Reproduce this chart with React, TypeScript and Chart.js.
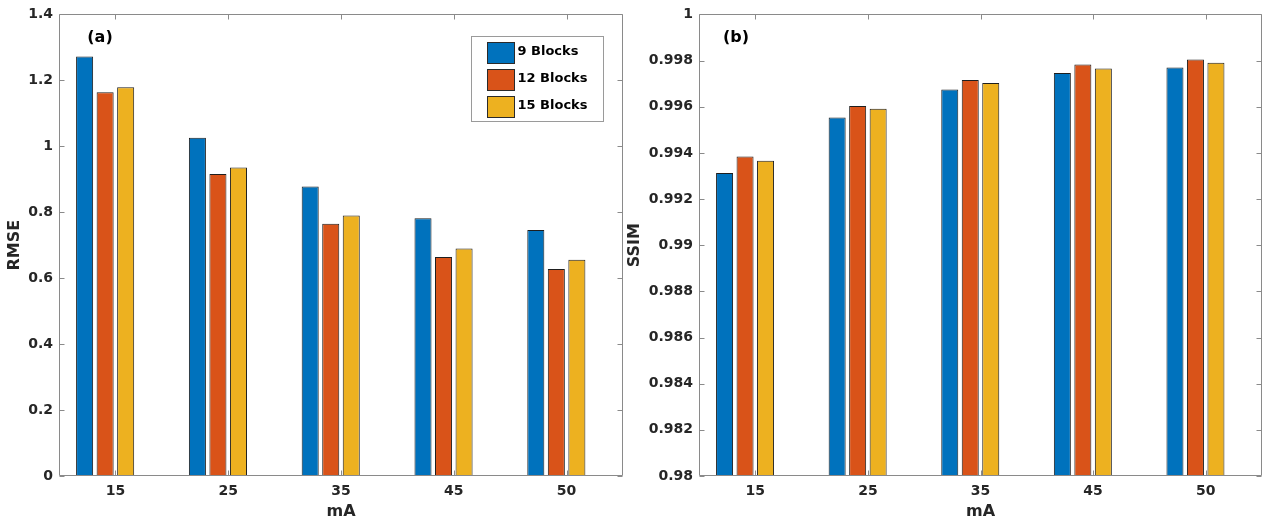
import React, { useEffect, useRef } from 'react';
import { Chart, registerables } from 'chart.js';

Chart.register(...registerables);

// ---------- data ----------
const currents = ['15', '25', '35', '45', '50'];
const seriesNames = ['9 Blocks', '12 Blocks', '15 Blocks'];
const seriesColors = ['#0072BD', '#D95319', '#EDB120'];

const rmse9 = [1.272, 1.026, 0.878, 0.782, 0.746];
const rmse12 = [1.164, 0.916, 0.765, 0.664, 0.628];
const rmse15 = [1.179, 0.936, 0.790, 0.690, 0.656];

const ssim9 = [0.99313, 0.99553, 0.99675, 0.99746, 0.99770];
const ssim12 = [0.99384, 0.99603, 0.99716, 0.99783, 0.99805];
const ssim15 = [0.99366, 0.99591, 0.99703, 0.99766, 0.99790];

// empty fourth slot of every group (zero-height series in the original figure)
const emptySlot = [null, null, null, null, null];

const rmseTickValues = [0, 0.2, 0.4, 0.6, 0.8, 1, 1.2, 1.4];
const rmseTickLabels = ['0', '0.2', '0.4', '0.6', '0.8', '1', '1.2', '1.4'];
const ssimTickValues = [0.98, 0.982, 0.984, 0.986, 0.988, 0.99, 0.992, 0.994, 0.996, 0.998, 1];
const ssimTickLabels = ['0.98', '0.982', '0.984', '0.986', '0.988', '0.99', '0.992', '0.994', '0.996', '0.998', '1'];

// ---------- style ----------
const FONT = 'DejaVu Sans';
const TEXT = '#262626';
const AXIS = '#8a8a8a';

const framePlugin = {
  id: 'matlabFrame',
  afterDraw(chart: any, _args: any, opts: any) {
    const { ctx, chartArea: a, scales } = chart;
    const xs = scales.x;
    const ys = scales.y;
    const L = Math.round(a.left) + 0.5;
    const R = Math.round(a.right) - 0.5;
    const T = Math.round(a.top) + 0.5;
    const B = Math.round(a.bottom) - 0.5;
    ctx.save();
    ctx.strokeStyle = AXIS;
    ctx.lineWidth = 1;
    ctx.beginPath();
    ctx.rect(L, T, R - L, B - T);
    ctx.stroke();
    const tl = 5;
    ctx.beginPath();
    ys.ticks.forEach((t: any) => {
      const py = Math.round(ys.getPixelForValue(t.value)) + 0.5;
      ctx.moveTo(L, py);
      ctx.lineTo(L + tl, py);
      ctx.moveTo(R, py);
      ctx.lineTo(R - tl, py);
    });
    xs.ticks.forEach((_t: any, i: number) => {
      const px = Math.round(xs.getPixelForTick(i)) + 0.5;
      ctx.moveTo(px, T);
      ctx.lineTo(px, T + tl);
      ctx.moveTo(px, B);
      ctx.lineTo(px, B - tl);
    });
    ctx.stroke();

    // panel label
    ctx.fillStyle = '#000';
    ctx.font = `bold 16px "${FONT}"`;
    ctx.textAlign = 'center';
    ctx.textBaseline = 'middle';
    ctx.fillText(opts.label, a.left + opts.labelDx, a.top + 23);

    // legend
    if (opts.legend) {
      const bw = 132;
      const bh = 85;
      const bx = Math.round(a.right - 20 - bw) + 0.5;
      const by = Math.round(a.top + 22) + 0.5;
      ctx.fillStyle = '#fff';
      ctx.fillRect(bx, by, bw, bh);
      ctx.strokeStyle = '#9a9a9a';
      ctx.strokeRect(bx, by, bw, bh);
      ctx.font = `bold 13px "${FONT}"`;
      ctx.textAlign = 'left';
      ctx.textBaseline = 'middle';
      seriesNames.forEach((name, i) => {
        const cy = by + 15.5 + i * 27;
        ctx.fillStyle = seriesColors[i];
        ctx.fillRect(bx + 16, Math.round(cy - 10.5), 27, 21);
        ctx.strokeStyle = '#2a2a2a';
        ctx.strokeRect(bx + 16, Math.round(cy - 10.5) + 0.5, 27, 21);
        ctx.fillStyle = '#000';
        ctx.fillText(name, bx + 46, cy);
      });
    }
    ctx.restore();
  },
};

function makeConfig(
  values: number[][],
  tickValues: number[],
  tickLabels: string[],
  yTitle: string,
  yWidth: number,
  padRight: number,
  label: string,
  labelDx: number,
  legend: boolean
) {
  const datasets: any[] = values.map((v, i) => ({
    label: seriesNames[i],
    data: v,
    backgroundColor: seriesColors[i],
    borderColor: '#1e1e1e',
    borderWidth: 1,
    borderSkipped: 'start',
  }));
  datasets.push({ label: '', data: emptySlot, backgroundColor: 'rgba(0,0,0,0)', borderWidth: 0 });
  return {
    type: 'bar',
    data: { labels: currents, datasets },
    options: {
      responsive: false,
      animation: false,
      layout: { padding: { left: 0, top: 12, right: padRight, bottom: 0 } },
      datasets: { bar: { categoryPercentage: 0.728, barPercentage: 0.83 } },
      plugins: {
        legend: { display: false },
        tooltip: { enabled: false },
        matlabFrame: { label, labelDx, legend },
      },
      scales: {
        x: {
          grid: { display: false, drawTicks: false },
          border: { display: false },
          ticks: { padding: 7, color: TEXT, font: { family: FONT, size: 14, weight: 'bold' }, maxRotation: 0 },
          title: {
            display: true,
            text: 'mA',
            color: TEXT,
            font: { family: FONT, size: 16, weight: 'bold' },
            padding: { top: 0, bottom: 2 },
          },
          afterFit: (s: any) => {
            s.height = 47;
          },
        },
        y: {
          min: tickValues[0],
          max: tickValues[tickValues.length - 1],
          afterBuildTicks: (s: any) => {
            s.ticks = tickValues.map((v) => ({ value: v }));
          },
          afterFit: (s: any) => {
            s.width = yWidth;
          },
          grid: { display: false, drawTicks: false },
          border: { display: false },
          ticks: {
            autoSkip: false,
            padding: 6,
            color: TEXT,
            font: { family: FONT, size: 14, weight: 'bold' },
            callback: (_v: any, i: number) => tickLabels[i],
          },
          title: {
            display: true,
            text: yTitle,
            color: TEXT,
            font: { family: FONT, size: 16, weight: 'bold' },
            padding: { top: 5, bottom: 0 },
          },
        },
      },
    },
    plugins: [framePlugin],
  } as any;
}

function Panel(props: { cfg: any; left: number; width: number }) {
  const ref = useRef<HTMLCanvasElement | null>(null);
  useEffect(() => {
    if (!ref.current) return;
    const chart = new Chart(ref.current, props.cfg);
    return () => chart.destroy();
  }, []);
  return (
    <canvas
      ref={ref}
      width={props.width}
      height={523}
      style={{ position: 'absolute', left: props.left, top: 0, width: props.width, height: 523, display: 'block' }}
    />
  );
}

export default function App() {
  const leftCfg = makeConfig(
    [rmse9, rmse12, rmse15],
    rmseTickValues,
    rmseTickLabels,
    'RMSE',
    59,
    7,
    '(a)',
    41,
    true
  );
  const rightCfg = makeConfig(
    [ssim9, ssim12, ssim15],
    ssimTickValues,
    ssimTickLabels,
    'SSIM',
    79,
    8,
    '(b)',
    37,
    false
  );
  return (
    <div style={{ position: 'absolute', left: 0, top: 0, width: 1270, height: 523, background: '#fff', overflow: 'hidden' }}>
      <Panel cfg={leftCfg} left={0} width={630} />
      <Panel cfg={rightCfg} left={620} width={650} />
    </div>
  );
}
